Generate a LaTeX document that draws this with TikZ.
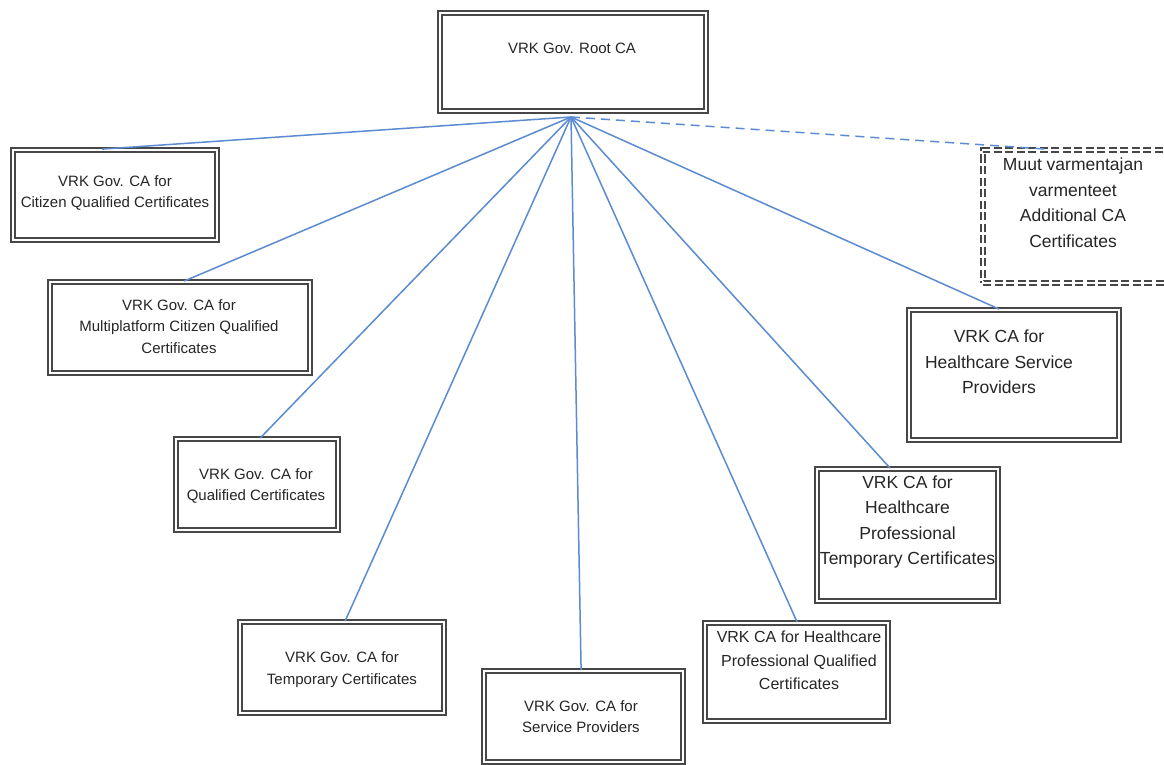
\documentclass[tikz,border=0pt]{standalone}
\usepackage{fontspec}
\setmainfont{Liberation Sans}
\usetikzlibrary{calc}
\begin{document}
\begin{tikzpicture}[x=1pt,y=-1pt,
  cabox/.style={draw=black!72, double=white, double distance=2pt, line width=1.8pt, fill=white, inner sep=0pt},
  dashbox/.style={cabox, dash pattern=on 8pt off 3.5pt},
  small/.style={align=center, font=\fontsize{15}{21.5}\selectfont, text=black!85, inner sep=0pt},
  mid/.style={align=center, font=\fontsize{16}{23.5}\selectfont, text=black!85, inner sep=0pt},
  big/.style={align=center, font=\fontsize{17.5}{25.5}\selectfont, text=black!85, inner sep=0pt},
  link/.style={color={rgb,255:red,91;green,139;blue,208}, line width=1.5pt},
  dlink/.style={link, dash pattern=on 9pt off 6pt}]
\useasboundingbox (0,0) rectangle (1164,765);
\fill[white] (0,0) rectangle (1164,765);

% boxes (centres, sizes)
\node[cabox, minimum width=266pt, minimum height=98pt] (root) at (573,62) {};
\node[cabox, minimum width=204pt, minimum height=90pt] (cit) at (115,195) {};
\node[cabox, minimum width=260pt, minimum height=91pt] (multi) at (180,327.5) {};
\node[cabox, minimum width=162pt, minimum height=91pt] (qual) at (257,484.5) {};
\node[cabox, minimum width=204pt, minimum height=91pt] (temp) at (342,667.5) {};
\node[cabox, minimum width=199pt, minimum height=91pt] (serv) at (583.5,716.5) {};
\node[cabox, minimum width=183pt, minimum height=98pt] (hpq) at (796.5,672) {};
\node[cabox, minimum width=181pt, minimum height=132pt] (hpt) at (907.5,535) {};
\node[cabox, minimum width=210pt, minimum height=130pt] (hsp) at (1014,375) {};
\node[dashbox, minimum width=190pt, minimum height=133pt] (add) at (1078,216.5) {};

% texts
\node[small] (troot) at (572,48) {VRK Gov. Root CA};
\node[small] (tcit) at (115,193) {VRK Gov. CA for\\Citizen Qualified Certificates};
\node[small] (tmulti) at (179,326.5) {VRK Gov. CA for\\Multiplatform Citizen Qualified\\Certificates};
\node[small] (tqual) at (256,486) {VRK Gov. CA for\\Qualified Certificates};
\node[small] (ttemp) at (342,669.5) {VRK Gov. CA for\\Temporary Certificates};
\node[small] (tserv) at (581,716.5) {VRK Gov. CA for\\Service Providers};
\node[mid] (thpq) at (799,660.5) {VRK CA for Healthcare\\Professional Qualified\\Certificates};
\node[big] (thpt) at (907.5,522) {VRK CA for\\Healthcare\\Professional\\Temporary Certificates};
\node[big] (thsp) at (999,362) {VRK CA for\\Healthcare Service\\Providers};
\node[big] (tadd) at (1073,202.5) {Muut varmentajan\\varmenteet\\Additional CA\\Certificates};

% connectors
\coordinate (hub) at (571,117);
\draw[link] (hub) -- ($(cit.north west)+(90,0)$);
\draw[link] (hub) -- ($(multi.north west)+(135,0)$);
\draw[link] (hub) -- ($(qual.north west)+(85,0)$);
\draw[link] (hub) -- ($(temp.north west)+(106,0)$);
\draw[link] (hub) -- ($(serv.north west)+(98,0)$);
\draw[link] (hub) -- ($(hpq.north west)+(93,0)$);
\draw[link] (hub) -- ($(hpt.north west)+(74,0)$);
\draw[link] (hub) -- ($(hsp.north west)+(91,0)$);
\draw[dlink] (hub) -- ($(add.north west)+(64,0)$);
\end{tikzpicture}
\end{document}
